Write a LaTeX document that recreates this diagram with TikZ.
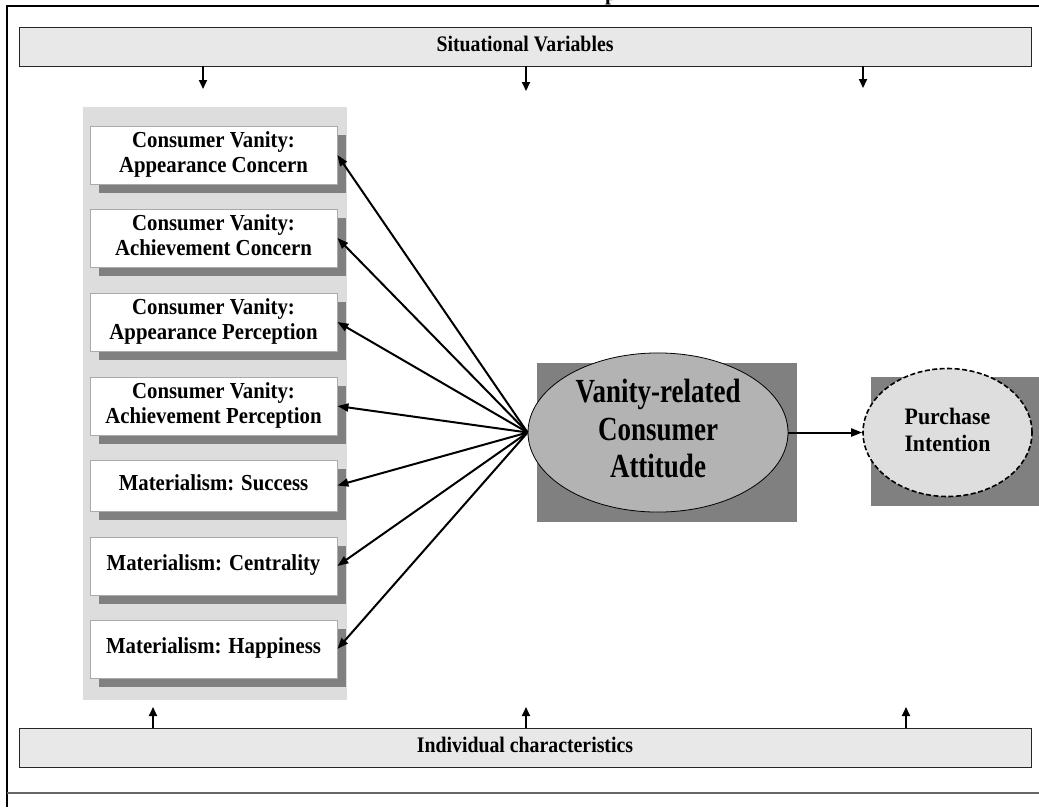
\documentclass[tikz,border=0pt]{standalone}
\usepackage{fontspec}
\setmainfont{Liberation Serif}
\usetikzlibrary{arrows.meta,shapes.geometric,shadows}
\definecolor{barfill}{HTML}{E8E8E8}
\definecolor{panelfill}{HTML}{DDDDDD}
\definecolor{shadowgray}{HTML}{808080}
\definecolor{ellfill}{HTML}{B3B3B3}
\definecolor{pifill}{HTML}{DEDEDE}
\definecolor{boxline}{HTML}{AAAAAA}
\newcommand{\vtext}[4]{\scalebox{1}[#1]{\fontsize{#2}{#3}\selectfont\bfseries\begin{tabular}{@{}c@{}}#4\end{tabular}}}
\pgfdeclarelayer{background}
\pgfsetlayers{background,main}
\begin{document}
\begin{tikzpicture}[x=1pt,y=-1pt,
  bar/.style={draw=black!85, line width=0.9pt, fill=barfill, minimum width=1012pt, minimum height=39pt, inner sep=0pt},
  itembox/.style={draw=boxline, line width=0.8pt, fill=white, minimum width=247pt, minimum height=58pt, inner sep=0pt,
    drop shadow={shadow xshift=9pt, shadow yshift=-9pt, fill=shadowgray, opacity=1}},
  arr/.style={-{Triangle[length=11pt,width=8pt]}, line width=2pt},
  varr/.style={-{Triangle[length=9pt,width=8pt]}, line width=1.9pt},
  shade/.style={fill=shadowgray},
]
\useasboundingbox (0,0) rectangle (1039,807);
\begin{scope}
\clip (0,0) rectangle (1039,807);
\node[anchor=base west, inner sep=0pt, font=\bfseries\fontsize{21}{25}\selectfont] (ttl) at (605,0.8) {p};
\end{scope}

% outer frame
\draw[line width=2pt] (7,807) -- (7,6) -- (1039,6);
\draw[line width=1.5pt, draw=black!60] (7,793) -- (1039,793);

% bars
\node[bar] (sv) at (525,46.5) {\vtext{1.12}{19.8}{22}{Situational Variables}};
\node[bar] (ic) at (525,747.5) {\vtext{1.12}{19.8}{22}{Individual characteristics}};

% item boxes
\node[itembox] (b1) at (213.5,155) {\vtext{1.1}{20.8}{22.4}{Consumer Vanity:\\Appearance Concern}};
\node[itembox] (b2) at (213.5,238) {\vtext{1.1}{20.8}{22.4}{Consumer Vanity:\\Achievement Concern}};
\node[itembox] (b3) at (213.5,322) {\vtext{1.1}{20.8}{22.4}{Consumer Vanity:\\Appearance Perception}};
\node[itembox] (b4) at (213.5,406) {\vtext{1.1}{20.8}{22.4}{Consumer Vanity:\\Achievement Perception}};
\node[itembox, minimum height=51pt] (b5) at (213.5,485.5) {\vtext{1.1}{20.8}{22.4}{Materialism: Success}};
\node[itembox] (b6) at (213.5,566) {\vtext{1.1}{20.8}{22.4}{Materialism: Centrality}};
\node[itembox] (b7) at (213.5,649) {\vtext{1.1}{20.8}{22.4}{Materialism: Happiness}};

% central constructs
\node[ellipse, draw=black, line width=0.8pt, fill=ellfill, minimum width=260pt, minimum height=151pt, inner sep=0pt] (att) at (658,432.5)
  {\vtext{1.25}{27}{30}{Vanity-related\\Consumer\\Attitude}};
\node[ellipse, draw=black, dash pattern=on 5pt off 2.5pt, line width=1.6pt, fill=pifill, minimum width=169pt, minimum height=128pt, inner sep=0pt] (pi) at (947.5,432.5)
  {\vtext{1.08}{21.8}{24.5}{Purchase\\Intention}};

\coordinate (attNW) at (att.west |- att.north);
\coordinate (attSE) at (att.east |- att.south);
\coordinate (piNW) at (pi.west |- pi.north);
\coordinate (piSE) at (pi.east |- pi.south);

\begin{pgfonlayer}{background}
\fill[panelfill] (83,107) rectangle (347,700);
\fill[shade] ([shift={(9,10)}]attNW) rectangle ([shift={(9,10)}]attSE);
\fill[shade] ([shift={(9,9)}]piNW) rectangle ([shift={(9,9)}]piSE);
\end{pgfonlayer}

% situational arrows
\coordinate (t1) at (203,89);
\coordinate (t2) at (526,91);
\coordinate (t3) at (863,88);
\foreach \t in {t1,t2,t3} \draw[varr] (sv.south -| \t) -- (\t);

% individual arrows
\coordinate (u1) at (153,707);
\coordinate (u2) at (526,707);
\coordinate (u3) at (906,707);
\foreach \u in {u1,u2,u3} \draw[varr] (ic.north -| \u) -- (\u);

% fan arrows
\foreach \b in {b1,b2,b3,b4,b5,b6,b7} \draw[arr] (att.west) -- (\b.east);

% attitude -> intention
\draw[arr] (att.east) -- (pi.west);
\end{tikzpicture}
\end{document}
